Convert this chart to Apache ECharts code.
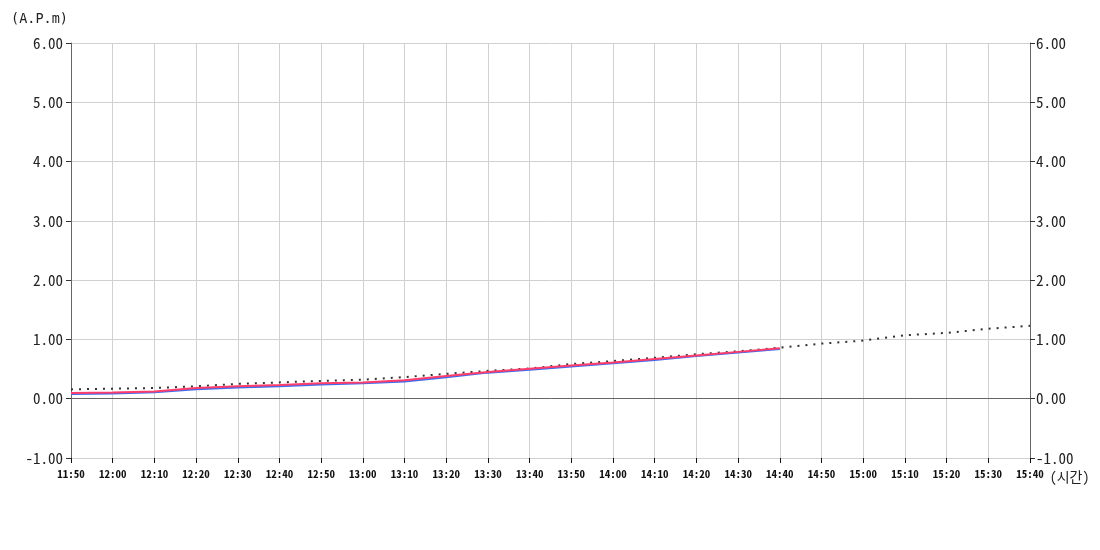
<!DOCTYPE html>
<html>
<head>
<meta charset="utf-8">
<script src="https://cdn.jsdelivr.net/npm/echarts@6/dist/echarts.min.js"></script>
<style>html,body{margin:0;padding:0;background:#fff}#c{width:1100px;height:550px}</style>
</head>
<body>
<div id="c"></div>
<script>
var categories = ['11:50','12:00','12:10','12:20','12:30','12:40','12:50','13:00','13:10','13:20','13:30','13:40','13:50','14:00','14:10','14:20','14:30','14:40','14:50','15:00','15:10','15:20','15:30','15:40'];
var blueValues = [0.08,0.09,0.11,0.16,0.19,0.21,0.24,0.26,0.29,0.36,0.44,0.49,0.545,0.60,0.655,0.72,0.78,0.84];
var redValues = [0.095,0.105,0.12,0.18,0.21,0.23,0.26,0.275,0.31,0.385,0.45,0.505,0.56,0.61,0.67,0.73,0.79,0.85];
var dottedValues = [0.157,0.17,0.18,0.21,0.25,0.275,0.30,0.32,0.365,0.42,0.47,0.51,0.585,0.635,0.69,0.75,0.80,0.86,0.93,0.98,1.07,1.11,1.18,1.23];
var yTicks = {min:-1, max:6, interval:1};

var FONT = "'Noto Sans Mono CJK KR','DejaVu Sans Mono',monospace";
var chart = echarts.init(document.getElementById('c'));
function yAxisDef(pos){
  return {
    type:'value', position:pos, min:yTicks.min, max:yTicks.max, interval:yTicks.interval,
    axisLine:{show:true, lineStyle:{color:'#666', width:1}},
    axisTick:{show:true, length:5, lineStyle:{color:'#333'}},
    axisLabel:{formatter:function(v){return v.toFixed(2);}, color:'#222', fontFamily:FONT, fontSize:15, margin:pos==='left'?8:6},
    splitLine:{show:pos==='left', lineStyle:{color:'#d0d0d0'}}
  };
}
var yl = yAxisDef('left');
yl.name = '(A.P.m)';
yl.nameLocation = 'end';
yl.nameGap = 17;
yl.nameTextStyle = {color:'#222', fontFamily:"'DejaVu Sans Mono',monospace", fontSize:13.5, align:'right', padding:[0,3,0,0]};
chart.setOption({
  animation:false,
  grid:{left:71, right:70, top:43, bottom:92},
  xAxis:{
    type:'category', data:categories, boundaryGap:false,
    name:'(시간)', nameLocation:'end', nameGap:4,
    nameTextStyle:{color:'#222', fontFamily:FONT, fontSize:14, verticalAlign:'top', padding:[12,0,0,0]},
    axisLine:{show:true, onZero:false, lineStyle:{color:'#d0d0d0'}},
    axisTick:{show:true, length:5, inside:false, lineStyle:{color:'#111'}},
    axisLabel:{color:'#111', fontFamily:FONT, fontSize:11, fontWeight:'bold', margin:10, interval:0},
    splitLine:{show:true, lineStyle:{color:'#d0d0d0'}}
  },
  yAxis:[yl, yAxisDef('right')],
  series:[
    {type:'line', data:dottedValues, symbol:'none', z:1,
     lineStyle:{color:'#333', width:2, type:[2,6]},
     markLine:{silent:true, symbol:'none', label:{show:false}, lineStyle:{color:'#666', width:1, type:'solid'}, data:[{yAxis:0}]}},
    {type:'line', data:blueValues, symbol:'none', z:2, lineStyle:{color:'#3d6cf0', width:2}},
    {type:'line', data:redValues, symbol:'none', z:3, lineStyle:{color:'#ff3d6b', width:2}}
  ]
});
</script>
</body>
</html>
